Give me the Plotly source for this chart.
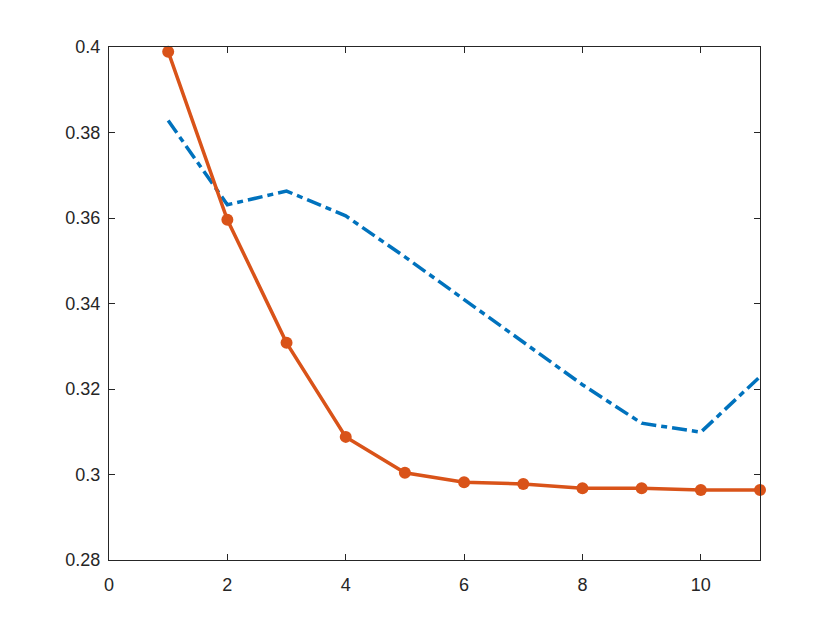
import plotly.graph_objects as go

x_vals = [1, 2, 3, 4, 5, 6, 7, 8, 9, 10, 11]
series_blue = [0.3828, 0.3631, 0.3663, 0.3605, 0.3509, 0.3409, 0.3308, 0.3210, 0.3120, 0.3099, 0.3229]
series_orange = [0.3989, 0.3596, 0.3308, 0.3088, 0.3004, 0.2982, 0.2978, 0.2968, 0.2968, 0.2964, 0.2964]
x_ticks = [0, 2, 4, 6, 8, 10]
y_ticks = [0.28, 0.30, 0.32, 0.34, 0.36, 0.38, 0.40]
y_tick_labels = ["0.28", "0.3", "0.32", "0.34", "0.36", "0.38", "0.4"]

fig = go.Figure()
fig.add_trace(go.Scatter(
    x=x_vals, y=series_blue, mode="lines",
    line=dict(color="#0072BD", width=3.5, dash="15px,5px,6px,5px"),
    showlegend=False,
))
fig.add_trace(go.Scatter(
    x=x_vals, y=series_orange, mode="lines+markers",
    line=dict(color="#D95319", width=3.5),
    marker=dict(color="#D95319", size=12),
    cliponaxis=False, showlegend=False,
))

axis_common = dict(
    showgrid=False, zeroline=False, showline=True, linecolor="#262626", linewidth=1,
    mirror="ticks", ticks="inside", ticklen=6, tickcolor="#262626", tickwidth=1,
    tickfont=dict(family="Liberation Sans, Arial, sans-serif", size=18, color="#262626"),
)
fig.update_xaxes(range=[0, 11], tickvals=x_ticks, ticktext=[str(t) for t in x_ticks],
                 ticklabelstandoff=8, **axis_common)
fig.update_yaxes(range=[0.28, 0.40], tickvals=y_ticks, ticktext=y_tick_labels,
                 ticklabelstandoff=4, **axis_common)

fig.update_layout(
    width=840, height=630,
    margin=dict(l=101, r=88, t=39, b=78),
    paper_bgcolor="white", plot_bgcolor="white",
)
fig.write_html("out.html")
